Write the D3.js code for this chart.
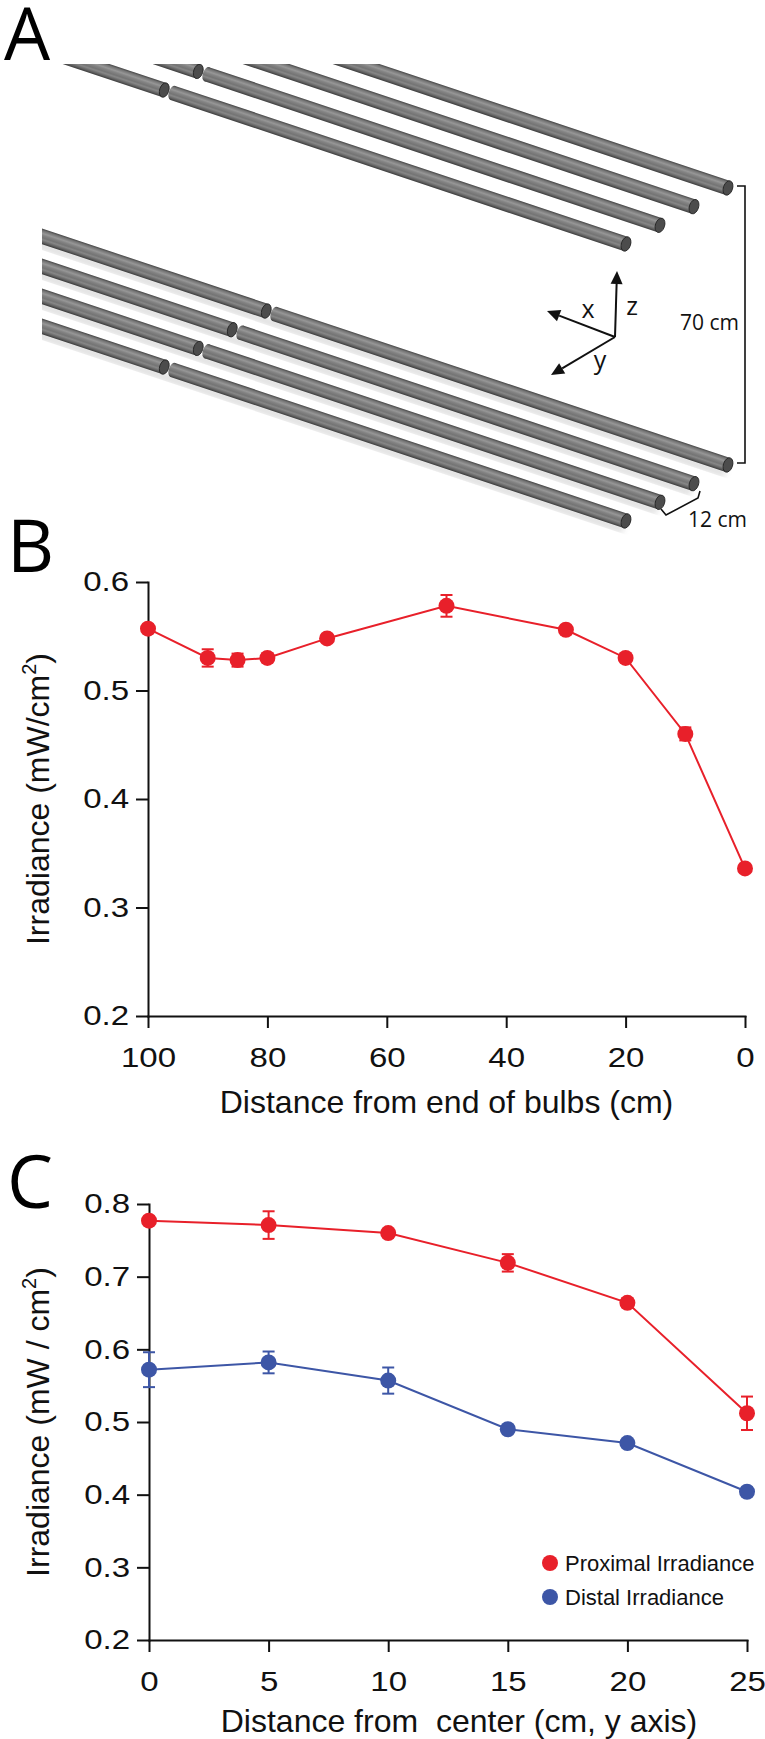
<!DOCTYPE html>
<html lang="en">
<head>
<meta charset="UTF-8">
<title>Bulb irradiance profile</title>
<script src="https://d3js.org/d3.v7.min.js"></script>
<style>
  body { margin: 0; background: #fff; }
  svg { display: block; }
  .axis path, .axis line { stroke: #111; stroke-width: 2; }
  .axis text { font-family: "Liberation Sans", Arial, sans-serif; font-size: 28px; fill: #111; }
  .title { font-family: "Liberation Sans", Arial, sans-serif; font-size: 32px; fill: #111; white-space: pre; }
  .panel { font-family: "Open Sans", sans-serif; font-size: 73px; fill: #000; }
  .diag { font-family: "Open Sans", sans-serif; fill: #111; }
  .legend { font-family: "Liberation Sans", Arial, sans-serif; font-size: 22px; fill: #111; }
</style>
</head>
<body>
<svg id="fig" width="765" height="1739"></svg>
<script>
// ---- data ----
// panel A: bulb layout (4 bulbs 12 cm apart, two levels 70 cm apart)
const bulbRows = [0, 1, 2, 3];
const bulbLevels = [0, 70];

// panel B: irradiance along the bulbs
const bDist = [100, 90, 85, 80, 70, 50, 30, 20, 10, 0];
const bIrr  = [0.557, 0.530, 0.528, 0.530, 0.548, 0.578, 0.556, 0.530, 0.460, 0.336];
const bErr  = [0.003, 0.008, 0.006, 0.004, 0.003, 0.010, 0.003, 0.003, 0.006, 0.003];
const bXTicks = [100, 80, 60, 40, 20, 0];
const bYTicks = [0.2, 0.3, 0.4, 0.5, 0.6];

// panel C: irradiance across the bulbs
const cDist   = [0, 5, 10, 15, 20, 25];
const proxIrr = [0.777, 0.771, 0.760, 0.719, 0.664, 0.512];
const proxErr = [0.003, 0.019, 0.004, 0.012, 0.006, 0.023];
const distIrr = [0.572, 0.582, 0.557, 0.490, 0.471, 0.404];
const distErr = [0.024, 0.015, 0.018, 0.004, 0.004, 0.004];
const cXTicks = [0, 5, 10, 15, 20, 25];
const cYTicks = [0.2, 0.3, 0.4, 0.5, 0.6, 0.7, 0.8];
const seriesNames = ["Proximal Irradiance", "Distal Irradiance"];

const RED = "#e8202a", BLUE = "#3d56a6";

const svg = d3.select("#fig");
const defs = svg.append("defs");

// ---------- Panel A ----------
const tube = defs.append("linearGradient").attr("id", "tube")
  .attr("x1", 0).attr("y1", 0).attr("x2", 0).attr("y2", 1);
[[0, "#444"], [0.12, "#747474"], [0.3, "#979797"], [0.42, "#838383"],
 [0.58, "#747474"], [0.7, "#878787"], [0.86, "#636363"], [1, "#3c3c3c"]]
  .forEach(s => tube.append("stop").attr("offset", s[0]).attr("stop-color", s[1]));

defs.append("filter").attr("id", "blur").append("feGaussianBlur").attr("stdDeviation", 3);
defs.append("clipPath").attr("id", "clipA").append("rect")
  .attr("x", 42).attr("y", 64).attr("width", 723).attr("height", 500);

const rowX = d3.scaleLinear().domain([0, 3]).range([728, 626]);
const rowY = d3.scaleLinear().domain([0, 3]).range([0, 56]);
const levelY = d3.scaleLinear().domain([0, 70]).range([465, 188]);

const ang = Math.atan(1 / 3);
const angDeg = ang * 180 / Math.PI;
const R = 7.4;
const gapBack = 457 / Math.cos(ang);

const gA = svg.append("g").attr("clip-path", "url(#clipA)");

function segment(b, x0, x1) {
  b.append("ellipse").attr("cx", x0).attr("cy", 0).attr("rx", 4).attr("ry", R)
    .attr("fill", "url(#tube)");
  b.append("rect").attr("x", x0).attr("y", -R).attr("width", x1 - x0).attr("height", 2 * R)
    .attr("fill", "url(#tube)");
  b.append("ellipse").attr("cx", x1).attr("cy", 0).attr("rx", 4.6).attr("ry", R)
    .attr("fill", "#4c4c4c").attr("stroke", "#222").attr("stroke-width", 0.8);
}

bulbLevels.forEach(z => {
  bulbRows.forEach(i => {
    const ex = rowX(i), ey = levelY(z) + rowY(i);
    const b = gA.append("g").attr("transform", `translate(${ex},${ey}) rotate(${angDeg})`);
    if (z === 0) {
      b.append("rect").attr("x", -900).attr("y", R - 1).attr("width", 900).attr("height", 6)
        .attr("fill", "#999").attr("opacity", 0.4).attr("filter", "url(#blur)");
    }
    segment(b, -900, -gapBack - 5);
    segment(b, -gapBack + 4, 0);
  });
});

// 70 cm bracket
svg.append("path")
  .attr("d", `M737,${levelY(70) - 2}H745V${levelY(0) - 2}H737`)
  .attr("fill", "none").attr("stroke", "#111").attr("stroke-width", 1.6);
svg.append("text").attr("class", "diag").attr("x", 739).attr("y", 330)
  .attr("text-anchor", "end").attr("font-size", 21).text("70 cm");

// 12 cm bracket
svg.append("path").attr("d", "M661,509L666,515L698,498L700,491")
  .attr("fill", "none").attr("stroke", "#111").attr("stroke-width", 1.6);
svg.append("text").attr("class", "diag").attr("x", 688).attr("y", 527)
  .attr("font-size", 21).text("12 cm");

// coordinate arrows
const origin = [615, 337];
const arrows = [
  { name: "z", tip: [617, 271], lab: [632, 315] },
  { name: "x", tip: [547, 311], lab: [588, 318] },
  { name: "y", tip: [551, 375], lab: [600, 369] }
];
arrows.forEach(a => {
  const dx = a.tip[0] - origin[0], dy = a.tip[1] - origin[1];
  const len = Math.hypot(dx, dy), ux = dx / len, uy = dy / len;
  const hl = 13, hw = 6;
  const bx = a.tip[0] - ux * hl, by = a.tip[1] - uy * hl;
  svg.append("line").attr("x1", origin[0]).attr("y1", origin[1]).attr("x2", bx).attr("y2", by)
    .attr("stroke", "#111").attr("stroke-width", 2);
  svg.append("path")
    .attr("d", `M${a.tip[0]},${a.tip[1]}L${bx - uy * hw},${by + ux * hw}L${bx + uy * hw},${by - ux * hw}Z`)
    .attr("fill", "#111");
  svg.append("text").attr("class", "diag").attr("x", a.lab[0]).attr("y", a.lab[1])
    .attr("text-anchor", "middle").attr("font-size", 25).text(a.name);
});

// panel letters
svg.append("text").attr("class", "panel").attr("x", 4).attr("y", 60).text("A");
svg.append("text").attr("class", "panel").attr("x", 7).attr("y", 572).text("B");
svg.append("text").attr("class", "panel").attr("x", 7).attr("y", 1208).text("C");

// ---------- helpers ----------
function errorBars(g, xs, ys, es, x, y, color) {
  const eb = g.append("g").attr("stroke", color).attr("stroke-width", 2);
  xs.forEach((d, i) => {
    const cx = x(d), y0 = y(ys[i] - es[i]), y1 = y(ys[i] + es[i]);
    eb.append("line").attr("x1", cx).attr("x2", cx).attr("y1", y0).attr("y2", y1);
    eb.append("line").attr("x1", cx - 6).attr("x2", cx + 6).attr("y1", y0).attr("y2", y0);
    eb.append("line").attr("x1", cx - 6).attr("x2", cx + 6).attr("y1", y1).attr("y2", y1);
  });
}
function series(g, xs, ys, es, x, y, color) {
  const pts = xs.map((d, i) => [d, ys[i]]);
  g.append("path").datum(pts)
    .attr("d", d3.line().x(p => x(p[0])).y(p => y(p[1])))
    .attr("fill", "none").attr("stroke", color).attr("stroke-width", 2);
  errorBars(g, xs, ys, es, x, y, color);
  g.selectAll(null).data(pts).enter().append("circle")
    .attr("cx", p => x(p[0])).attr("cy", p => y(p[1])).attr("r", 8).attr("fill", color);
}
function axes(xScale, yScale, xTicks, yTicks, yFmt) {
  const x0 = xScale.range()[0], y0 = yScale.range()[0];
  svg.append("g").attr("class", "axis").attr("transform", `translate(0,${y0})`)
    .call(d3.axisBottom(xScale).tickValues(xTicks).tickSize(12).tickSizeOuter(0).tickPadding(19)
      .tickFormat(d3.format("d")))
    .selectAll("text").attr("transform", "scale(1.18,1)");
  svg.append("g").attr("class", "axis").attr("transform", `translate(${x0},0)`)
    .call(d3.axisLeft(yScale).tickValues(yTicks).tickSize(12).tickSizeOuter(0).tickPadding(4)
      .tickFormat(yFmt))
    .selectAll("text").attr("transform", "scale(1.18,1)");
  svg.selectAll(".axis .domain").attr("stroke-linecap", "square");
}
function yTitle(cx, cy, pre) {
  const t = svg.append("text").attr("class", "title")
    .attr("transform", `translate(${cx},${cy}) rotate(-90)`).attr("text-anchor", "middle");
  t.append("tspan").text(pre);
  t.append("tspan").attr("dy", -13).attr("font-size", 20).text("2");
  t.append("tspan").attr("dy", 13).text(")");
}

// ---------- Panel B ----------
const xB = d3.scaleLinear().domain([100, 0]).range([148, 745]);
const yB = d3.scaleLinear().domain([0.2, 0.6]).range([1016, 582]);
axes(xB, yB, bXTicks, bYTicks, d3.format(".1f"));
series(svg.append("g"), bDist, bIrr, bErr, xB, yB, RED);
svg.append("text").attr("class", "title").attr("x", (148 + 745) / 2).attr("y", 1113)
  .attr("text-anchor", "middle").text("Distance from end of bulbs (cm)");
yTitle(49, 799, "Irradiance (mW/cm");

// ---------- Panel C ----------
const xC = d3.scaleLinear().domain([0, 25]).range([149, 747]);
const yC = d3.scaleLinear().domain([0.2, 0.8]).range([1640, 1204]);
axes(xC, yC, cXTicks, cYTicks, d3.format(".1f"));
const gC = svg.append("g");
series(gC, cDist, distIrr, distErr, xC, yC, BLUE);
series(gC, cDist, proxIrr, proxErr, xC, yC, RED);
svg.append("text").attr("class", "title").attr("x", 459).attr("y", 1732)
  .attr("text-anchor", "middle").text("Distance from  center (cm, y axis)");
yTitle(49, 1422, "Irradiance (mW / cm");

// legend
const lg = svg.append("g").attr("transform", "translate(550,1563)");
seriesNames.forEach((n, i) => {
  lg.append("circle").attr("cx", 0).attr("cy", i * 34).attr("r", 8).attr("fill", i ? BLUE : RED);
  lg.append("text").attr("class", "legend").attr("x", 15).attr("y", i * 34 + 7.5).text(n);
});
</script>
</body>
</html>
